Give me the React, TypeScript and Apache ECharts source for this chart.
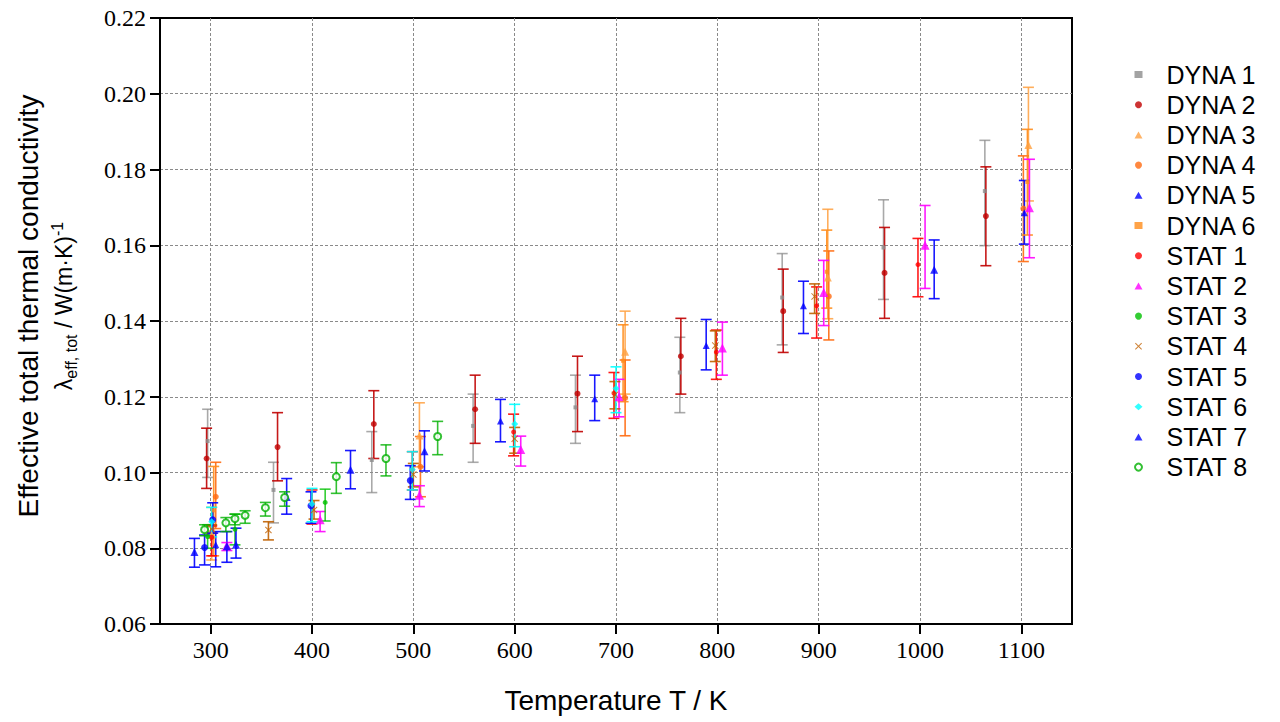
import React, { useEffect, useRef } from 'react';
import * as echarts from 'echarts';

// [temperature K, value, lower error bound, upper error bound]
const DYNA_1 = [
  [297, 0.1083, 0.0987, 0.1167],
  [362, 0.0954, 0.0867, 0.1027],
  [459, 0.1033, 0.0947, 0.1108],
  [559, 0.1123, 0.1027, 0.1207],
  [660, 0.1172, 0.1077, 0.1257],
  [763, 0.1264, 0.1158, 0.1357],
  [864, 0.1462, 0.1337, 0.1578],
  [964, 0.1594, 0.1457, 0.172],
  [1064, 0.1743, 0.1599, 0.1877],
];
const DYNA_2 = [
  [296, 0.1037, 0.0958, 0.1117],
  [366, 0.1067, 0.0978, 0.1158],
  [461, 0.1128, 0.1037, 0.1216],
  [561, 0.1167, 0.1077, 0.1257],
  [662, 0.1208, 0.1108, 0.1307],
  [764, 0.1307, 0.1207, 0.1407],
  [865, 0.1426, 0.1317, 0.1537],
  [965, 0.1527, 0.1407, 0.1647],
  [1065, 0.1677, 0.1546, 0.1807],
];
const DYNA_3 = [
  [301, 0.0835, 0.0769, 0.0908],
  [506, 0.1098, 0.1015, 0.1184],
  [709, 0.1319, 0.1207, 0.1426],
  [909, 0.1515, 0.1406, 0.1695],
  [1107, 0.1865, 0.1717, 0.2017],
];
const DYNA_4 = [
  [305, 0.0936, 0.0852, 0.1027],
  [507, 0.1015, 0.0936, 0.1095],
  [709, 0.1197, 0.1097, 0.1297],
  [910, 0.1465, 0.135, 0.1585],
  [1102, 0.1697, 0.1557, 0.1836],
];
const DYNA_5 = [
  [305, 0.0809, 0.0751, 0.0844],
  [586, 0.1136, 0.1081, 0.1193],
  [679, 0.1195, 0.1137, 0.1257],
  [789, 0.1335, 0.1271, 0.1404],
  [885, 0.144, 0.1367, 0.1505],
  [1103, 0.1686, 0.1603, 0.1771],
];
const DYNA_6 = [
  [303, 0.09, 0.078, 0.1016],
  [707, 0.1295, 0.1187, 0.139],
  [908, 0.153, 0.1434, 0.164],
  [1106, 0.1767, 0.1627, 0.1906],
];
const STAT_1 = [
  [301, 0.0829, 0.078, 0.0859],
  [400, 0.0915, 0.0864, 0.0954],
  [499, 0.1007, 0.0954, 0.1055],
  [599, 0.1107, 0.1044, 0.1154],
  [698, 0.1209, 0.1143, 0.1264],
  [799, 0.1318, 0.1246, 0.1376],
  [898, 0.144, 0.1355, 0.149],
  [998, 0.1549, 0.1464, 0.1618],
];
const STAT_2 = [
  [316, 0.0807, 0.0794, 0.0815],
  [408, 0.0875, 0.0844, 0.0897],
  [506, 0.094, 0.091, 0.0965],
  [606, 0.1061, 0.1017, 0.1096],
  [703, 0.12, 0.1147, 0.1246],
  [805, 0.1329, 0.1257, 0.1397],
  [905, 0.1475, 0.1388, 0.156],
  [1005, 0.16, 0.1486, 0.1705],
  [1108, 0.1699, 0.1567, 0.1827],
];
const STAT_3 = [
  [297, 0.0831, 0.08, 0.0862],
  [324, 0.085, 0.0809, 0.089],
  [413, 0.0921, 0.0872, 0.0956],
];
const STAT_4 = [
  [301, 0.0851, 0.084, 0.0862],
  [357, 0.0848, 0.0822, 0.087],
  [402, 0.0901, 0.0877, 0.0926],
  [500, 0.0995, 0.0962, 0.1024],
  [600, 0.1089, 0.1051, 0.1119],
  [699, 0.1205, 0.1168, 0.124],
  [798, 0.1335, 0.1293, 0.1374],
  [896, 0.1465, 0.142, 0.1498],
];
const STAT_5 = [
  [294, 0.0802, 0.0756, 0.0835],
  [302, 0.0875, 0.084, 0.092],
  [399, 0.0912, 0.0866, 0.0949],
  [497, 0.0979, 0.0929, 0.1018],
];
const STAT_6 = [
  [301, 0.087, 0.083, 0.0908],
  [400, 0.0917, 0.087, 0.0958],
  [499, 0.1008, 0.0954, 0.1055],
  [600, 0.1128, 0.1068, 0.118],
  [700, 0.1222, 0.1158, 0.1279],
];
const STAT_7 = [
  [284, 0.079, 0.075, 0.0826],
  [316, 0.0805, 0.0763, 0.0844],
  [325, 0.0809, 0.0774, 0.0853],
  [375, 0.0935, 0.089, 0.0984],
  [438, 0.1007, 0.0957, 0.1058],
  [511, 0.1056, 0.1004, 0.111],
  [1014, 0.1535, 0.1459, 0.1614],
];
const STAT_8 = [
  [294, 0.0849, 0.0833, 0.0862],
  [315, 0.0867, 0.0844, 0.0881],
  [324, 0.0878, 0.0862, 0.089],
  [334, 0.0887, 0.0866, 0.0899],
  [354, 0.0907, 0.0885, 0.0921],
  [373, 0.0934, 0.0911, 0.0949],
  [424, 0.0989, 0.0945, 0.1026],
  [473, 0.1037, 0.0991, 0.1073],
  [524, 0.1095, 0.1047, 0.1135],
];

const SERIES_NAMES = [
  'DYNA 1', 'DYNA 2', 'DYNA 3', 'DYNA 4', 'DYNA 5', 'DYNA 6',
  'STAT 1', 'STAT 2', 'STAT 3', 'STAT 4', 'STAT 5', 'STAT 6', 'STAT 7', 'STAT 8',
];
const SERIES_DATA = [
  DYNA_1, DYNA_2, DYNA_3, DYNA_4, DYNA_5, DYNA_6,
  STAT_1, STAT_2, STAT_3, STAT_4, STAT_5, STAT_6, STAT_7, STAT_8,
];

const X_TITLE = 'Temperature T / K';
const Y_TITLE_1 = 'Effective total thermal conductivity';

// styles
const SANS = 'Liberation Sans';
const SERIF = 'Liberation Serif';
const COLORS = [
  '#8c8c8c', '#c00000', '#ffa040', '#ff6a10', '#0000ff', '#ff8c1a',
  '#ff0000', '#ff00ff', '#00c000', '#c06000', '#0000ff', '#00ffff', '#0000ff', '#00b000',
];
const CROSS = 'path://M1,0 L5,4 L9,0 L10,1 L6,5 L10,9 L9,10 L5,6 L1,10 L0,9 L4,5 L0,1 Z';
const SYMBOLS = [
  'rect', 'circle', 'triangle', 'circle', 'triangle', 'rect',
  'circle', 'triangle', 'circle', CROSS, 'circle', 'diamond', 'triangle', 'emptyCircle',
];
const SIZES = [4, 6, 8, 6, 7, 4, 5, 9, 5, 7, 7, 7, 8, 7];
const ERR_OPACITY = [0.75, 0.9, 0.85, 0.9, 0.9, 0.9, 0.9, 0.9, 0.8, 0.9, 0.9, 0.9, 0.9, 0.8];

function makeErrRenderer(color: string, opacity: number) {
  return (params: any, api: any) => {
    const x = api.value(0);
    const lo = api.coord([x, api.value(2)]);
    const hi = api.coord([x, api.value(3)]);
    const half = 5.5;
    const style = { stroke: color, lineWidth: 1.6, opacity };
    return {
      type: 'group',
      children: [
        { type: 'line', shape: { x1: lo[0], y1: lo[1], x2: hi[0], y2: hi[1] }, style },
        { type: 'line', shape: { x1: lo[0] - half, y1: lo[1], x2: lo[0] + half, y2: lo[1] }, style },
        { type: 'line', shape: { x1: hi[0] - half, y1: hi[1], x2: hi[0] + half, y2: hi[1] }, style },
      ],
    };
  };
}

export default function App() {
  const ref = useRef<HTMLDivElement>(null);
  useEffect(() => {
    if (!ref.current) return;
    const chart = echarts.init(ref.current, null, { renderer: 'svg' });
    const series: any[] = [];
    SERIES_NAMES.forEach((name, i) => {
      series.push({
        type: 'custom',
        name: name + ' error',
        data: SERIES_DATA[i],
        encode: { x: 0, y: [2, 3] },
        renderItem: makeErrRenderer(COLORS[i], ERR_OPACITY[i]),
        silent: true,
        z: 2,
      });
    });
    SERIES_NAMES.forEach((name, i) => {
      series.push({
        type: 'scatter',
        name,
        data: SERIES_DATA[i].map((d) => [d[0], d[1]]),
        symbol: SYMBOLS[i],
        symbolSize: SIZES[i],
        itemStyle: SYMBOLS[i] === 'emptyCircle'
          ? { color: COLORS[i], borderColor: COLORS[i], borderWidth: 2 }
          : { color: COLORS[i] },
        z: 3,
      });
    });

    chart.setOption({
      animation: false,
      backgroundColor: '#fff',
      grid: {
        left: 160, top: 18, width: 912, height: 606,
        show: true, borderColor: '#000', borderWidth: 2, backgroundColor: 'transparent',
      },
      legend: {
        data: SERIES_NAMES,
        orient: 'vertical',
        left: 1129,
        top: 57,
        itemWidth: 8,
        itemHeight: 7,
        itemGap: 5.2,
        textStyle: {
          fontFamily: SANS, fontSize: 25, color: '#000', lineHeight: 25,
          padding: [0, 0, 0, 19],
        },
      },
      xAxis: {
        type: 'value',
        min: 250,
        max: 1150,
        splitNumber: 9,
        name: X_TITLE,
        nameLocation: 'middle',
        nameGap: 62,
        nameTextStyle: { fontFamily: SANS, fontSize: 28, color: '#000' },
        axisLine: { show: true, lineStyle: { color: '#000', width: 2 } },
        axisTick: { show: true, inside: false, length: 10, lineStyle: { color: '#000', width: 2 } },
        axisLabel: {
          showMinLabel: false,
          showMaxLabel: false,
          margin: 14,
          fontFamily: SERIF,
          fontSize: 24,
          color: '#000',
          formatter: (v: number) => (Math.round(v) % 100 === 0 ? String(Math.round(v)) : ''),
        },
        splitLine: {
          show: true, showMinLine: false, showMaxLine: false,
          lineStyle: { color: '#8a8a8a', type: [3, 2], width: 1 },
        },
      },
      yAxis: {
        type: 'value',
        min: 0.06,
        max: 0.22,
        interval: 0.02,
        axisLine: { show: true, lineStyle: { color: '#000', width: 2 } },
        axisTick: { show: true, inside: false, length: 10, lineStyle: { color: '#000', width: 2 } },
        axisLabel: {
          margin: 14,
          fontFamily: SERIF,
          fontSize: 24,
          color: '#000',
          formatter: (v: number) => v.toFixed(2),
        },
        splitLine: {
          show: true, showMinLine: false, showMaxLine: false,
          lineStyle: { color: '#8a8a8a', type: [3, 2], width: 1 },
        },
      },
      graphic: [
        {
          type: 'text',
          x: 28,
          y: 306,
          rotation: Math.PI / 2,
          style: {
            text: Y_TITLE_1,
            fontFamily: SANS,
            fontSize: 28,
            fill: '#000',
            align: 'center',
            verticalAlign: 'middle',
          },
        },
        {
          type: 'text',
          x: 64,
          y: 306,
          rotation: Math.PI / 2,
          style: {
            text: '{a|λ}{b|eff, tot}{a| / W(m·K)}{c|-1}',
            align: 'center',
            verticalAlign: 'middle',
            rich: {
              a: { fontFamily: SANS, fontSize: 23, fill: '#000', lineHeight: 30, verticalAlign: 'middle' },
              b: { fontFamily: SANS, fontSize: 16, fill: '#000', lineHeight: 16, verticalAlign: 'bottom' },
              c: { fontFamily: SANS, fontSize: 16, fill: '#000', lineHeight: 16, verticalAlign: 'top' },
            },
          },
        },
      ],
      series,
    });
    return () => chart.dispose();
  }, []);
  return <div ref={ref} style={{ position: 'fixed', left: 0, top: 0, width: 1280, height: 722 }} />;
}
